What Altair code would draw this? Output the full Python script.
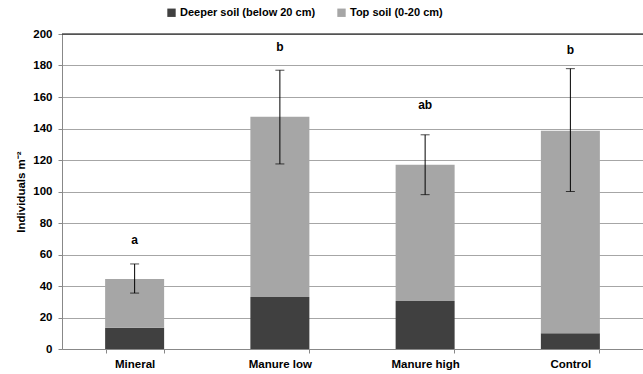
import altair as alt
import pandas as pd

# Earthworm density by fertilisation treatment, split by soil layer
treatments = ["Mineral", "Manure low", "Manure high", "Control"]
deeper = [13.5, 33.0, 30.5, 10.0]
topsoil = [31.0, 114.5, 86.5, 128.5]
err_low = [35.5, 117.5, 98.0, 100.0]
err_high = [54.0, 177.0, 136.0, 178.0]
letters = ["a", "b", "ab", "b"]
letter_y = [69, 192, 155, 190]
y_ticks = [0, 20, 40, 60, 80, 100, 120, 140, 160, 180, 200]

layers = ["Deeper soil (below 20 cm)", "Top soil (0-20 cm)"]
colors = ["#404040", "#a6a6a6"]

rows = []
for i, t in enumerate(treatments):
    rows.append({"treatment": t, "layer": layers[0], "value": deeper[i], "ord": 0})
    rows.append({"treatment": t, "layer": layers[1], "value": topsoil[i], "ord": 1})
bars_df = pd.DataFrame(rows)

summary_df = pd.DataFrame({
    "treatment": treatments,
    "low": err_low,
    "high": err_high,
    "letter": letters,
    "ly": letter_y,
})

FONT = "Liberation Sans"
Y_TITLE = "Individuals m\u207b\u00b2"

x_enc = alt.X(
    "treatment:N",
    sort=treatments,
    title=None,
    scale=alt.Scale(paddingInner=0.6, paddingOuter=0.3),
    axis=alt.Axis(
        labelAngle=0, labelFont=FONT, labelFontWeight="bold", labelFontSize=11.5,
        labelColor="#000000", domainColor="#888888", tickColor="#888888",
        tickBand="extent", tickSize=4, labelPadding=5, grid=False,
    ),
)

y_scale = alt.Scale(domain=[0, 200], nice=False)
y_axis = alt.Axis(
    values=y_ticks, tickCount=11, labelOverlap=False, labelFont=FONT,
    labelFontWeight="bold", labelFontSize=11.5, labelColor="#000000",
    titleFont=FONT, titleFontWeight="bold", titleFontSize=11.5,
    titleColor="#000000", titlePadding=6, domainColor="#888888",
    tickColor="#888888", tickSize=4, labelPadding=6,
    gridColor="#a6a6a6", gridWidth=1,
)


def y_of(field):
    return alt.Y(field, scale=y_scale, axis=y_axis, title=Y_TITLE)


bars = alt.Chart(bars_df).mark_bar(size=59).encode(
    x=x_enc,
    y=alt.Y("value:Q", stack="zero", scale=y_scale, axis=y_axis, title=Y_TITLE),
    color=alt.Color(
        "layer:N",
        scale=alt.Scale(domain=layers, range=colors),
        legend=alt.Legend(
            title=None, orient="none", direction="horizontal",
            legendX=104, legendY=-27, symbolType="square", symbolSize=70,
            symbolStrokeWidth=0, labelFont=FONT, labelFontWeight="bold",
            labelFontSize=11, labelColor="#000000", columnPadding=20,
            symbolOffset=0, labelOffset=3,
        ),
    ),
    order=alt.Order("ord:Q"),
)

err_rule = alt.Chart(summary_df).mark_rule(color="#000000", strokeWidth=1).encode(
    x=alt.X("treatment:N", sort=treatments),
    y=y_of("low:Q"),
    y2="high:Q",
)
cap_low = alt.Chart(summary_df).mark_tick(
    orient="horizontal", size=9, thickness=1, color="#000000"
).encode(x=alt.X("treatment:N", sort=treatments), y=y_of("low:Q"))
cap_high = alt.Chart(summary_df).mark_tick(
    orient="horizontal", size=9, thickness=1, color="#000000"
).encode(x=alt.X("treatment:N", sort=treatments), y=y_of("high:Q"))

letter_text = alt.Chart(summary_df).mark_text(
    font=FONT, fontWeight="bold", fontSize=12, color="#000000", baseline="middle"
).encode(
    x=alt.X("treatment:N", sort=treatments),
    y=y_of("ly:Q"),
    text="letter:N",
)

top_line = alt.Chart(pd.DataFrame({"y": [200]})).mark_rule(
    color="#000000", strokeWidth=1.2
).encode(y=y_of("y:Q"))

chart = alt.layer(bars, err_rule, cap_low, cap_high, letter_text, top_line).properties(
    width=581,
    height=315,
    autosize=alt.AutoSizeParams(type="none"),
    padding={"left": 62, "top": 34, "right": 0, "bottom": 25},
).configure_view(stroke=None).configure(background="#ffffff")

chart.save("out.html", embed_options={"renderer": "svg", "actions": False})
